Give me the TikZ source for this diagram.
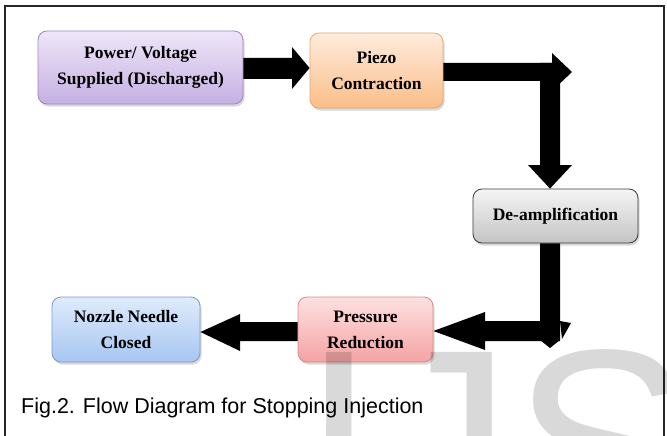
\documentclass[tikz,border=0pt]{standalone}
\usepackage{fontspec}
\setmainfont{Liberation Serif}
\newfontfamily\capfont{Liberation Sans}
\usetikzlibrary{shadows,calc}
\definecolor{pT}{HTML}{EEE6F8}\definecolor{pB}{HTML}{C5B0E3}\definecolor{pD}{HTML}{9F86C4}
\definecolor{oT}{HTML}{FEEBDD}\definecolor{oB}{HTML}{FBBE88}\definecolor{oD}{HTML}{E5A774}
\definecolor{gT}{HTML}{F5F5F5}\definecolor{gB}{HTML}{C4C4C4}\definecolor{gD}{HTML}{3A3A3A}
\definecolor{rT}{HTML}{FDE0E0}\definecolor{rB}{HTML}{F5A3A3}\definecolor{rD}{HTML}{D58C8C}
\definecolor{bT}{HTML}{DFEBFB}\definecolor{bB}{HTML}{A6C6F2}\definecolor{bD}{HTML}{7C9BCC}
\begin{document}
\begin{tikzpicture}[x=1pt,y=-1pt,
  box/.style={rounded corners=9pt, draw, line width=0.8pt, inner sep=0pt, align=center,
    font=\fontsize{17.5}{26}\selectfont\bfseries,
    drop shadow={shadow xshift=1.5pt, shadow yshift=-2.5pt, opacity=0.3}},
  arr/.style={fill=black},
  frameline/.style={draw=black!85, line width=1.8pt}]
\useasboundingbox (0,0) rectangle (667,436);
\fill[white] (0,0) rectangle (667,436);
\draw[frameline] (5,436) -- (5,6) -- (664,6) -- (664,436);

\node[box, minimum width=205pt, minimum height=73pt, top color=pT, bottom color=pB, draw=pD] (pw) at (140.5,67.5) {Power/ Voltage\\Supplied (Discharged)};
\node[box, minimum width=133pt, minimum height=75pt, top color=oT, bottom color=oB, draw=oD] (pz) at (376.5,70.5) {Piezo\\Contraction};
\node[box, minimum width=165pt, minimum height=54pt, top color=gT, bottom color=gB, draw=gD] (da) at (555.5,216) {De-amplification};
\node[box, minimum width=135pt, minimum height=65pt, top color=rT, bottom color=rB, draw=rD] (pr) at (365.5,329.5) {Pressure\\Reduction};
\node[box, minimum width=148pt, minimum height=65pt, top color=bT, bottom color=bB, draw=bD] (nz) at (126,329.5) {Nozzle Needle\\Closed};

% arrow power -> piezo
\fill[arr] (pw.east |- 0,58) -- (292,58) -- (292,47) -- (pz.west |- 0,68) -- (292,89) -- (292,79) -- (pw.east |- 0,79) -- cycle;
% elbow piezo -> de-amplification
\fill[arr] (pz.east |- 0,63) -- (552,63) -- (552,53) -- (572,72) -- (552,91) -- (552,81) -- (pz.east |- 0,81) -- cycle;
\fill[arr] (540,63) -- (560,63) -- (560,165) -- (572,165) -- (550,0 |- da.north) -- (528,165) -- (540,165) -- cycle;
% elbow de-amplification -> pressure
\fill[arr] (540,0 |- da.south) -- (560,0 |- da.south) -- (560,341) -- (485,341) -- (485,350) -- (pr.east |- 0,331) -- (485,312) -- (485,321) -- (540,321) -- cycle;
\fill[arr] (560,321) -- (571,323) -- (562,339) -- cycle;
\fill[arr] (540,340) -- (550,348) -- (560,340) -- cycle;
% arrow pressure -> nozzle
\fill[arr] (pr.west |- 0,322) -- (240,322) -- (240,314) -- (nz.east |- 0,332) -- (240,351) -- (240,341) -- (pr.west |- 0,341) -- cycle;

\begin{scope}
\clip (0,0) rectangle (667,436);
\node[anchor=base west, inner sep=0pt, text=black, text opacity=0.15, font=\capfont\fontsize{272}{272}\selectfont] (wm) at (301,539) {IJSER};
\end{scope}

\node[anchor=base west, inner sep=0pt, font=\capfont\fontsize{21.5}{21.5}\selectfont] (cap) at (21,413) {Fig.2. Flow Diagram for Stopping Injection};
\end{tikzpicture}
\end{document}
